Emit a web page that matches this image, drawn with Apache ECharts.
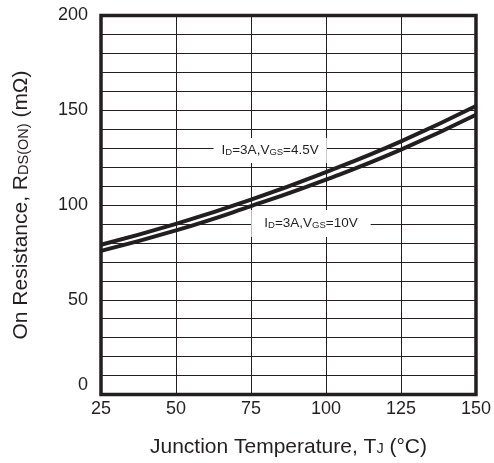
<!DOCTYPE html>
<html>
<head>
<meta charset="utf-8">
<script src="https://cdn.jsdelivr.net/npm/echarts@6/dist/echarts.min.js"></script>
<style>
  html, body { margin: 0; padding: 0; background: #fff; }
  #chart { width: 494px; height: 463px; }
</style>
</head>
<body>
<div id="chart"></div>
<script>
// Junction temperature (°C)
const temps = [25, 50, 75, 100, 125, 150];
// On resistance (mΩ) for ID=3A, VGS=4.5V
const rdsVgs45 = [79, 90, 102.8, 117.4, 133.6, 152.2];
// On resistance (mΩ) for ID=3A, VGS=10V
const rdsVgs10 = [75.8, 86.6, 99.4, 113.4, 129.2, 147.6];

const ink = '#231f20';
const font = 'Arial, "Liberation Sans", sans-serif';

const chart = echarts.init(document.getElementById('chart'));

const small = { fontSize: 9.5, fontFamily: font, color: ink, verticalAlign: 'bottom', lineHeight: 13 };
const norm = { fontSize: 13.5, fontFamily: font, color: ink, verticalAlign: 'bottom', lineHeight: 13 };

const option = {
    animation: false,
    backgroundColor: '#fff',
    grid: {
        left: 101, top: 15.5, right: 16, bottom: 68.5,
        show: true,
        borderColor: ink,
        borderWidth: 3.5
    },
    xAxis: {
        type: 'value',
        min: 25, max: 150, interval: 25,
        name: '{n|Junction Temperature, T}{s|J}{n| (°C)}',
        nameLocation: 'middle',
        nameGap: 42,
        nameTextStyle: {
            rich: {
                n: { fontSize: 21, fontFamily: font, color: ink, verticalAlign: 'bottom', lineHeight: 21 },
                s: { fontSize: 14.5, fontFamily: font, color: ink, verticalAlign: 'bottom', lineHeight: 21, padding: [0, 0, 1, 0] }
            }
        },
        axisLine: { show: false },
        axisTick: { show: false },
        axisLabel: { fontSize: 18, fontFamily: font, color: ink, margin: 6 },
        splitLine: { show: true, lineStyle: { color: ink, width: 1 } }
    },
    yAxis: {
        type: 'value',
        min: 0, max: 200, interval: 50,
        name: '{n|On Resistance, R}{s|DS(ON)}{n| (mΩ)}',
        nameLocation: 'middle',
        nameGap: 69,
        nameRotate: 90,
        nameTextStyle: {
            rich: {
                n: { fontSize: 21, fontFamily: font, color: ink, verticalAlign: 'bottom', lineHeight: 21 },
                s: { fontSize: 14.5, fontFamily: font, color: ink, verticalAlign: 'bottom', lineHeight: 21, padding: [0, 0, 1, 0] }
            }
        },
        axisLine: { show: false },
        axisTick: { show: false },
        minorTick: { show: false, splitNumber: 5 },
        axisLabel: {
            fontSize: 18, fontFamily: font, color: ink, margin: 13,
            formatter: v => v === 0 ? '{z|0}' : String(v),
            rich: { z: { fontSize: 18, fontFamily: font, color: ink, padding: [0, 0, 19, 0] } }
        },
        splitLine: { show: true, lineStyle: { color: ink, width: 1 } },
        minorSplitLine: { show: true, lineStyle: { color: ink, width: 1 } }
    },
    series: [
        {
            name: 'VGS=4.5V',
            type: 'line',
            data: temps.map((t, i) => [t, rdsVgs45[i]]),
            smooth: true,
            symbol: 'none',
            lineStyle: { color: ink, width: 4 },
            markPoint: {
                symbol: 'circle',
                symbolSize: 0,
                silent: true,
                label: {
                    show: true,
                    position: 'inside',
                    backgroundColor: '#fff',
                    rich: { n: norm, s: small }
                },
                data: [
                    {
                        coord: [81.4, 128.8],
                        label: { formatter: '{n|I}{s|D}{n|=3A,V}{s|GS}{n|=4.5V}', padding: [6, 8] }
                    },
                    {
                        coord: [95, 90.2],
                        label: { formatter: '{n|I}{s|D}{n|=3A,V}{s|GS}{n|=10V}', padding: [7, 13] }
                    }
                ]
            }
        },
        {
            name: 'VGS=10V',
            type: 'line',
            data: temps.map((t, i) => [t, rdsVgs10[i]]),
            smooth: true,
            symbol: 'none',
            lineStyle: { color: ink, width: 4 }
        }
    ]
};

chart.setOption(option);
</script>
</body>
</html>
